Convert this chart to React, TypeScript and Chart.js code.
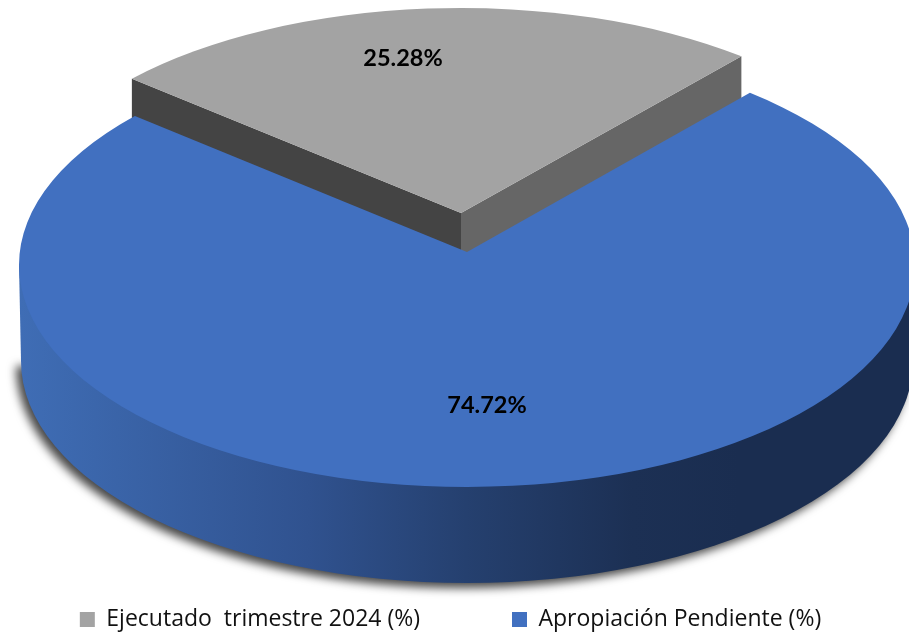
import React, { useEffect, useRef } from "react";
import { Chart, registerables } from "chart.js";

Chart.register(...registerables);

const categories = ["Ejecutado  trimestre 2024 (%)", "Apropiación Pendiente (%)"];
const seriesValues = [25.28, 74.72];
const sliceColors = ["#A3A3A3", "#4170C0"];

const FIRST_SLICE_ROTATION = -50;
const PERSPECTIVE = 0.05;
const BLUE = { cx: 467, cy: 265, rx: 448, ry: 222, ax: 467, ay: 252, bx: 467, by: 361, brx: 446, bry: 222 };
const GRAY = { cx: 461, cy: 223, rx: 444, ry: 215, ax: 461, ay: 213, depth: 44 };
const LABELS = [{ x: 403, y: 58 }, { x: 487, y: 405 }];
const LEGEND_TOP = 516;

const rimParam = (theta: number) => {
  const x = Math.cos(theta);
  const y = Math.sin(theta);
  const d = 1 - PERSPECTIVE * y;
  return Math.atan2((y - PERSPECTIVE) / d, (x * Math.sqrt(1 - PERSPECTIVE * PERSPECTIVE)) / d);
};

const pie3d = {
  id: "pie3d",
  afterLayout(chart: any) {
    chart.legend.top = LEGEND_TOP;
  },
  beforeDatasetsDraw(chart: any) {
    const ctx: CanvasRenderingContext2D = chart.ctx;
    const arcs = chart.getDatasetMeta(0).data;
    const grayArc = arcs[0];
    const blueArc = arcs[1];
    const colors = chart.data.datasets[0].backgroundColor;

    // gray slice walls (the blue top covers their lower ends)
    const g0 = rimParam(grayArc.startAngle);
    const g1 = rimParam(grayArc.endAngle);
    const gp0 = { x: GRAY.cx + GRAY.rx * Math.cos(g0), y: GRAY.cy + GRAY.ry * Math.sin(g0) };
    const gp1 = { x: GRAY.cx + GRAY.rx * Math.cos(g1), y: GRAY.cy + GRAY.ry * Math.sin(g1) };
    ctx.save();
    ctx.fillStyle = "#444444";
    ctx.beginPath();
    ctx.moveTo(GRAY.ax, GRAY.ay);
    ctx.lineTo(gp0.x, gp0.y);
    ctx.lineTo(gp0.x, gp0.y + GRAY.depth);
    ctx.lineTo(GRAY.ax, GRAY.ay + GRAY.depth);
    ctx.closePath();
    ctx.fill();
    ctx.fillStyle = "#666666";
    ctx.beginPath();
    ctx.moveTo(GRAY.ax, GRAY.ay);
    ctx.lineTo(gp1.x, gp1.y);
    ctx.lineTo(gp1.x, gp1.y + GRAY.depth);
    ctx.lineTo(GRAY.ax, GRAY.ay + GRAY.depth);
    ctx.closePath();
    ctx.fill();

    // gray top
    ctx.fillStyle = colors[0];
    ctx.beginPath();
    ctx.moveTo(GRAY.ax, GRAY.ay);
    ctx.ellipse(GRAY.cx, GRAY.cy, GRAY.rx, GRAY.ry, 0, g0, g1);
    ctx.closePath();
    ctx.fill();

    // blue side wall with its soft shadow
    const grad = ctx.createLinearGradient(20, 0, 740, 0);
    grad.addColorStop(0, "#3F6DB5");
    grad.addColorStop(0.4, "#30528F");
    grad.addColorStop(0.62, "#25406F");
    grad.addColorStop(0.85, "#1C3054");
    grad.addColorStop(1, "#1A2D50");
    ctx.save();
    ctx.shadowColor = "rgba(0,0,0,0.72)";
    ctx.shadowBlur = 10;
    ctx.shadowOffsetX = -5;
    ctx.shadowOffsetY = 5;
    ctx.fillStyle = grad;
    ctx.beginPath();
    ctx.ellipse(BLUE.bx, BLUE.by, BLUE.brx, BLUE.bry, 0, 0, Math.PI);
    ctx.closePath();
    ctx.fill();
    ctx.restore();
    ctx.fillStyle = grad;
    ctx.beginPath();
    ctx.moveTo(BLUE.cx - BLUE.rx, BLUE.cy);
    ctx.lineTo(BLUE.bx - BLUE.brx, BLUE.by);
    ctx.lineTo(BLUE.bx + BLUE.brx, BLUE.by);
    ctx.lineTo(BLUE.cx + BLUE.rx, BLUE.cy);
    ctx.closePath();
    ctx.fill();

    // blue top
    ctx.fillStyle = colors[1];
    ctx.beginPath();
    ctx.moveTo(BLUE.ax, BLUE.ay);
    ctx.ellipse(BLUE.cx, BLUE.cy, BLUE.rx, BLUE.ry, 0, rimParam(blueArc.startAngle), rimParam(blueArc.endAngle));
    ctx.closePath();
    ctx.fill();

    // value labels
    ctx.fillStyle = "#000000";
    ctx.font = "bold 23.5px Lato";
    ctx.textAlign = "center";
    ctx.textBaseline = "middle";
    seriesValues.forEach((v, i) => ctx.fillText(v.toFixed(2) + "%", LABELS[i].x, LABELS[i].y));
    ctx.restore();
    return false;
  },
};

export default function App() {
  const ref = useRef<HTMLCanvasElement>(null);
  useEffect(() => {
    const chart = new Chart(ref.current as HTMLCanvasElement, {
      type: "pie",
      data: {
        labels: categories,
        datasets: [{ data: seriesValues, backgroundColor: sliceColors, borderWidth: 0 }],
      },
      options: {
        animation: false,
        responsive: false,
        rotation: FIRST_SLICE_ROTATION,
        layout: { padding: { left: -15, right: -7 } },
        plugins: {
          tooltip: { enabled: false },
          legend: {
            position: "bottom",
            labels: {
              boxWidth: 15,
              boxHeight: 15,
              padding: 92,
              color: "#111111",
              font: { family: "Open Sans", size: 23 },
            },
          },
        },
      },
      plugins: [pie3d],
    } as any);
    return () => chart.destroy();
  }, []);
  return (
    <canvas
      ref={ref}
      width={909}
      height={632}
      style={{ position: "absolute", left: 0, top: 0, display: "block" }}
    />
  );
}
